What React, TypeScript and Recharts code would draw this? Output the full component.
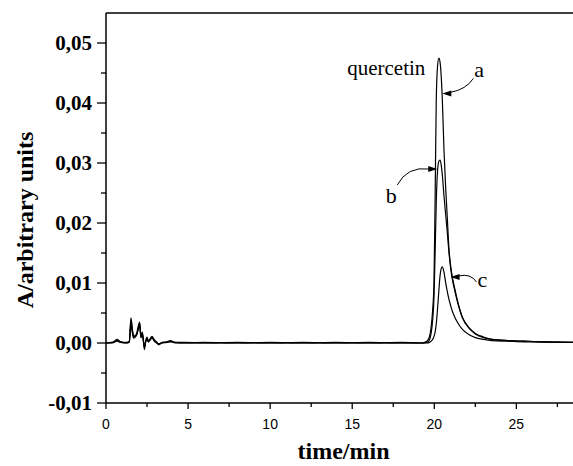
import { LineChart, Line, XAxis, YAxis, ReferenceLine, ReferenceDot } from "recharts";

// retention time (min)
const time = [
  0, 0.4, 0.67, 0.9, 1.2, 1.42, 1.52, 1.6, 1.68, 1.85,
  2.05, 2.13, 2.22, 2.34, 2.42, 2.5, 2.58, 2.66, 2.8, 2.95,
  3.08, 3.21, 3.45, 3.7, 3.92, 4.2, 4.8, 6, 8, 10,
  12, 14, 16, 18, 19.2, 19.55, 19.7, 19.8, 19.9, 19.98,
  20.05, 20.12, 20.2, 20.28, 20.35, 20.42, 20.49, 20.59, 20.69, 20.79,
  20.89, 21.0, 21.1, 21.25, 21.4, 21.7, 22.1, 22.5, 23.0, 23.5,
  24.5, 25.5, 26.5, 27.5, 28.45,
];

// absorbance, trace a
const seriesA = [
  0, 0.0001, 0.0006, 0.0002, 0.0001, 0.0002, 0.0042, 0.0025, 0.001, 0.0015,
  0.0035, 0.0012, 0.0018, -0.0011, 0.0004, 0.001, 0.0003, 0.0006, 0.0011, 0.0005,
  0.0002, -0.0003, 0.0001, 0.0002, 0.0004, 0.0001, 0.0001, 0, 0.0001, 0,
  0, 0.0001, 0, 0, 0, 0.0003, 0.001, 0.0025, 0.0055, 0.01,
  0.024, 0.0405, 0.0462, 0.0475, 0.0468, 0.0445, 0.0405, 0.0322, 0.026, 0.021,
  0.0158, 0.0128, 0.011, 0.009, 0.0072, 0.0044, 0.0026, 0.0016, 0.001, 0.0006,
  0.0004, 0.0003, 0.0002, 0.0002, 0.0001,
];

// trace b
const seriesB = [
  0, 0, 0.0004, 0.0002, 0, 0.0003, 0.0038, 0.0022, 0.0012, 0.0013,
  0.0032, 0.001, 0.0015, -0.0008, 0.0002, 0.0008, 0.0002, 0.0005, 0.0009, 0.0003,
  0.0001, -0.0002, 0.0001, 0.0001, 0.0003, 0, 0, 0.0001, 0, 0,
  0.0001, 0, 0, 0.0001, 0, 0.0001, 0.0005, 0.0015, 0.0038, 0.0075,
  0.015, 0.0235, 0.0288, 0.0303, 0.0305, 0.0297, 0.028, 0.0245, 0.0215, 0.0185,
  0.0152, 0.0124, 0.0106, 0.0087, 0.007, 0.0043, 0.0025, 0.0015, 0.0009, 0.0006,
  0.0004, 0.0003, 0.0002, 0.0001, 0.0001,
];

// trace c
const seriesC = [
  0, 0.0001, 0.0003, 0.0001, 0, 0.0001, 0.003, 0.0018, 0.0008, 0.0012,
  0.0028, 0.0009, 0.0013, -0.0006, 0.0003, 0.0007, 0.0002, 0.0004, 0.0008, 0.0004,
  0, -0.0001, 0, 0.0001, 0.0002, 0.0001, 0, 0, 0, 0.0001,
  0, 0, 0.0001, 0, 0, 0, 0.0001, 0.0003, 0.0006, 0.0011,
  0.0018, 0.0032, 0.0058, 0.0088, 0.0112, 0.0124, 0.0127, 0.0118, 0.0101, 0.0086,
  0.0073, 0.0062, 0.0053, 0.0043, 0.0035, 0.0023, 0.0014, 0.0009, 0.0006, 0.0004,
  0.0003, 0.0002, 0.0002, 0.0001, 0.0001,
];

const xMajorTicks = [0, 5, 10, 15, 20, 25];
const xMinorTicks = [2.5, 7.5, 12.5, 17.5, 22.5, 27.5];
const yMajorTicks = [-0.01, 0, 0.01, 0.02, 0.03, 0.04, 0.05];
const yMinorTicks = [-0.005, 0.005, 0.015, 0.025, 0.035, 0.045];

const rows = time.map((t, i) => ({ t, a: seriesA[i], b: seriesB[i], c: seriesC[i] }));

const SERIF = "'Liberation Serif', 'Times New Roman', serif";
const SANS = "'Liberation Sans', Arial, sans-serif";

const XTick = (props: any) => {
  const { x, y, payload } = props;
  const major = xMajorTicks.includes(payload.value);
  return (
    <g>
      <line x1={x} y1={y} x2={x} y2={y + (major ? 6 : 4)} stroke="#000" strokeWidth={1.3} />
      {major && (
        <text x={x} y={y + 26} textAnchor="middle" fontFamily={SANS} fontSize={14} fill="#000">
          {payload.value}
        </text>
      )}
    </g>
  );
};

const YTick = (props: any) => {
  const { x, y, payload } = props;
  const major = yMajorTicks.some((v) => Math.abs(v - payload.value) < 1e-9);
  return (
    <g>
      <line x1={x - (major ? 9 : 5)} y1={y} x2={x} y2={y} stroke="#000" strokeWidth={1.3} />
      {major && (
        <text x={x - 14} y={y + 7} textAnchor="end" fontFamily={SERIF} fontWeight="bold" fontSize={21} fill="#000">
          {payload.value.toFixed(2).replace(".", ",")}
        </text>
      )}
    </g>
  );
};

const Arrow = ({ cx, cy, dir }: { cx: number; cy: number; dir: number }) => (
  <polygon
    points={`${cx},${cy} ${cx + dir * 9},${cy - 3} ${cx + dir * 9},${cy + 3}`}
    fill="#000"
  />
);

export default function App() {
  return (
    <div style={{ position: "absolute", left: 0, top: 0, background: "#fff" }}>
      <LineChart width={573} height={466} data={rows} margin={{ top: 13, right: 0, bottom: 0, left: 0 }}>
        <XAxis
          dataKey="t"
          type="number"
          domain={[0, 28.45]}
          ticks={[...xMajorTicks, ...xMinorTicks]}
          interval={0}
          tickSize={0}
          tickMargin={0}
          tickLine={false}
          tick={<XTick />}
          height={63}
          axisLine={{ stroke: "#000", strokeWidth: 1.5 }}
          allowDataOverflow
          label={{
            content: (p: any) => {
              const vb = p.viewBox;
              return (
                <text x={vb.x + vb.width / 2 + 4} y={459} textAnchor="middle" fontFamily={SERIF} fontWeight="bold" fontSize={24} fill="#000">
                  time/min
                </text>
              );
            },
          }}
        />
        <YAxis
          type="number"
          domain={[-0.01, 0.055]}
          ticks={[...yMajorTicks, ...yMinorTicks]}
          interval={0}
          tickSize={0}
          tickMargin={0}
          tickLine={false}
          tick={<YTick />}
          width={106}
          axisLine={{ stroke: "#000", strokeWidth: 1.5 }}
          allowDataOverflow
          label={{
            content: (p: any) => {
              const vb = p.viewBox;
              const cy = vb.y + vb.height / 2 + 12;
              return (
                <text x={25} y={cy} transform={`rotate(-90 25 ${cy})`} textAnchor="middle" dominantBaseline="central" fontFamily={SERIF} fontWeight="bold" fontSize={24} fill="#000">
                  A/arbitrary units
                </text>
              );
            },
          }}
        />
        <ReferenceLine y={0.055} stroke="#000" strokeWidth={1.5} />
        <Line type="monotone" dataKey="a" stroke="#000" strokeWidth={1.2} dot={false} isAnimationActive={false} />
        <Line type="monotone" dataKey="b" stroke="#000" strokeWidth={1.2} dot={false} isAnimationActive={false} />
        <Line type="monotone" dataKey="c" stroke="#000" strokeWidth={1.2} dot={false} isAnimationActive={false} />
        {/* annotation a + quercetin */}
        <ReferenceDot
          x={20.49}
          y={0.0416}
          r={0}
          ifOverflow="visible"
          shape={(p: any) => (
            <g>
              <Arrow cx={p.cx} cy={p.cy} dir={1} />
              <path d={`M${p.cx + 8},${p.cy - 1} Q${p.cx + 24},${p.cy - 4} ${p.cx + 31},${p.cy - 15}`} fill="none" stroke="#000" strokeWidth={1} />
              <text x={p.cx + 32} y={p.cy - 16} fontFamily={SERIF} fontSize={22} fill="#000">a</text>
              <text x={p.cx - 17} y={p.cy - 18} textAnchor="end" fontFamily={SERIF} fontSize={21} fill="#000">quercetin</text>
            </g>
          )}
        />
        {/* annotation b */}
        <ReferenceDot
          x={20.18}
          y={0.029}
          r={0}
          ifOverflow="visible"
          shape={(p: any) => (
            <g>
              <Arrow cx={p.cx} cy={p.cy} dir={-1} />
              <path d={`M${p.cx - 8},${p.cy} Q${p.cx - 30},${p.cy - 3} ${p.cx - 40},${p.cy + 16}`} fill="none" stroke="#000" strokeWidth={1} />
              <text x={p.cx - 46} y={p.cy + 34} textAnchor="middle" fontFamily={SERIF} fontSize={22} fill="#000">b</text>
            </g>
          )}
        />
        {/* annotation c */}
        <ReferenceDot
          x={20.99}
          y={0.011}
          r={0}
          ifOverflow="visible"
          shape={(p: any) => (
            <g>
              <Arrow cx={p.cx} cy={p.cy} dir={1} />
              <path d={`M${p.cx + 8},${p.cy - 1} Q${p.cx + 20},${p.cy - 4} ${p.cx + 26},${p.cy + 5}`} fill="none" stroke="#000" strokeWidth={1} />
              <text x={p.cx + 27} y={p.cy + 10} fontFamily={SERIF} fontSize={22} fill="#000">c</text>
            </g>
          )}
        />
      </LineChart>
    </div>
  );
}
